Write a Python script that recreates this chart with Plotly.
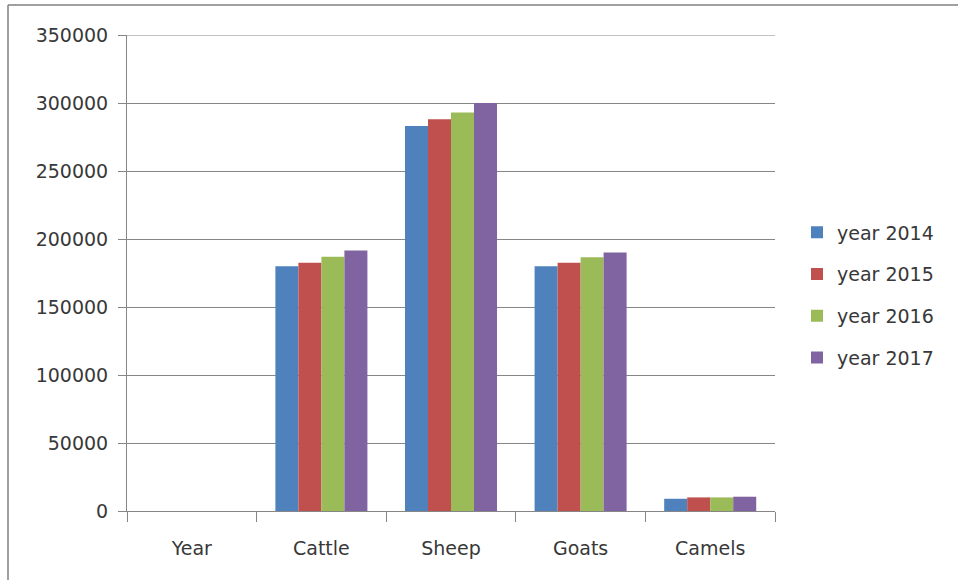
import plotly.graph_objects as go

categories = ["Year", "Cattle", "Sheep", "Goats", "Camels"]
series_names = ["year 2014", "year 2015", "year 2016", "year 2017"]
v2014 = [0, 180000, 283000, 180000, 9000]
v2015 = [0, 182500, 288000, 182500, 10000]
v2016 = [0, 187000, 293000, 186500, 10000]
v2017 = [0, 191500, 300000, 190000, 10500]
colors = ["#4F81BD", "#C0504D", "#9BBB59", "#8064A2"]
y_ticks = [0, 50000, 100000, 150000, 200000, 250000, 300000, 350000]

W, H = 958, 580
L, R, T, B = 127, 183, 35, 69
pw, ph = W - L - R, H - T - B

fig = go.Figure()
for name, vals, c in zip(series_names, [v2014, v2015, v2016, v2017], colors):
    fig.add_trace(go.Bar(x=categories, y=vals, name=name, marker_color=c,
                         marker_line_width=0, legendgroup=name))

font = dict(family="DejaVu Sans", size=19, color="#383838")
fig.update_layout(
    width=W, height=H,
    margin=dict(l=L, r=R, t=T, b=B, pad=0),
    paper_bgcolor="white", plot_bgcolor="white",
    barmode="group", bargap=0.29, bargroupgap=0,
    font=font,
    showlegend=True,
    legend=dict(x=(797 - L) / pw, xanchor="left", y=(511 - 295) / ph, yanchor="middle",
                font=font, tracegroupgap=14, bgcolor="rgba(0,0,0,0)"),
    xaxis=dict(type="category", range=[-0.5, 4.5], showline=True, linecolor="#868686", linewidth=1,
               ticks="outside", tickson="boundaries", ticklen=10, tickcolor="#868686",
               showgrid=False, ticklabelstandoff=20, tickfont=font, fixedrange=True),
    yaxis=dict(range=[0, 350000], tickvals=y_ticks, ticktext=[str(v) for v in y_ticks],
               showline=True, linecolor="#868686", linewidth=1,
               ticks="outside", ticklen=8, tickcolor="#868686",
               showgrid=True, gridcolor="#868686", gridwidth=1, zeroline=False,
               ticklabelstandoff=6, tickfont=font, fixedrange=True),
)

# top gridline at the range edge
fig.add_shape(type="line", xref="paper", yref="y", x0=0, x1=1, y0=y_ticks[-1], y1=y_ticks[-1],
              line=dict(color="#868686", width=1), layer="below")

# outer chart border (only top and left edges visible in the frame)
x0 = (8 - L) / pw
fig.add_shape(type="line", xref="paper", yref="paper", x0=x0, x1=(W + 20 - L) / pw, y0=(511 - 5) / ph, y1=(511 - 5) / ph,
              line=dict(color="#808080", width=1.5))
fig.add_shape(type="line", xref="paper", yref="paper", x0=x0, x1=x0, y0=(511 - 5) / ph, y1=(511 - 600) / ph,
              line=dict(color="#808080", width=1.5))

fig.write_html("out.html")
